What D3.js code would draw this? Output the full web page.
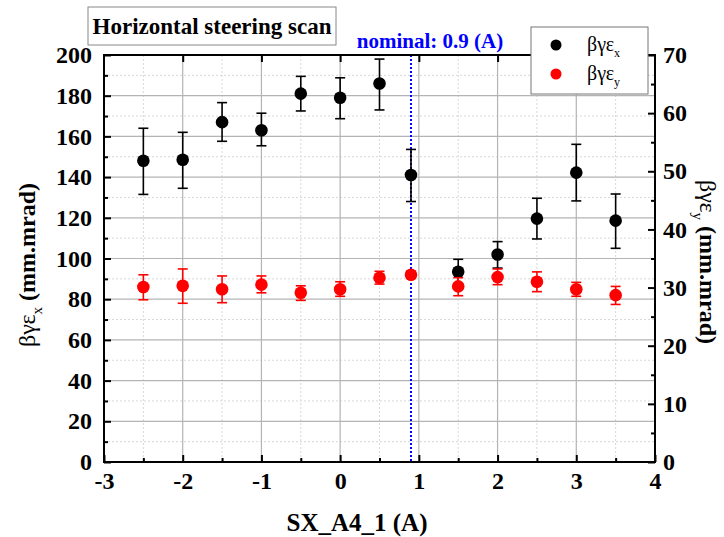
<!DOCTYPE html>
<html>
<head>
<meta charset="utf-8">
<script src="https://cdn.jsdelivr.net/npm/d3@7"></script>
<style>
body { margin: 0; background: #fff; }
text { font-family: "Liberation Serif", "Times New Roman", serif; }
</style>
</head>
<body>
<script>
// steering current (A)
var current = [-2.5, -2, -1.5, -1, -0.5, 0, 0.5, 0.9, 1.5, 2, 2.5, 3, 3.5];
// horizontal emittance and its error bar ends (left axis)
var emitX   = [148, 148.5, 167, 163, 181, 179, 186, 141, 93.5, 102, 119.6, 142.2, 118.6];
var emitXLo = [131.5, 134.5, 157.6, 155.4, 172.5, 168.7, 173, 128, 87.5, 95.3, 109.6, 128.3, 105];
var emitXHi = [164, 162, 176.6, 171.4, 189.5, 188.8, 198, 153.6, 99.6, 108.3, 129.6, 156.1, 131.7];
// vertical emittance and its error bar ends (right axis)
var emitY   = [30.1, 30.3, 29.7, 30.5, 29.1, 29.7, 31.7, 32.2, 30.2, 31.8, 31.0, 29.7, 28.7];
var emitYLo = [27.9, 27.3, 27.4, 29.1, 27.8, 28.5, 30.6, 31.6, 28.6, 30.5, 29.3, 28.5, 27.1];
var emitYHi = [32.2, 33.2, 32.0, 32.0, 30.3, 31.0, 32.8, 32.8, 31.7, 33.2, 32.7, 30.9, 30.2];
var nominal = 0.9;

var W = 724, H = 537;
var margin = {top: 55, right: 69, bottom: 75, left: 104},
	width = W - margin.left - margin.right,
	height = H - margin.top - margin.bottom;

var svg = d3.select("body").append("svg")
	.attr("width", W).attr("height", H);
var g = svg.append("g")
	.attr("transform", "translate(" + margin.left + "," + margin.top + ")");

var x = d3.scaleLinear().domain([-3, 4]).range([0, width]);
var yL = d3.scaleLinear().domain([0, 200]).range([height, 0]);
var yR = d3.scaleLinear().domain([0, 70]).range([height, 0]);
var plain = function(d) { return String(d); }; // keep ascii hyphen like the original

// grid: dashed minor, solid major
var minorX = d3.range(-2.5, 4, 1), majorX = d3.range(-2, 4, 1);
var minorY = d3.range(10, 200, 20), majorY = d3.range(20, 200, 20);
g.selectAll(".gxm").data(minorX).enter().append("line")
	.attr("x1", x).attr("x2", x).attr("y1", 0).attr("y2", height)
	.attr("stroke", "#d8d8d8").attr("stroke-dasharray", "2,2");
g.selectAll(".gym").data(minorY).enter().append("line")
	.attr("y1", yL).attr("y2", yL).attr("x1", 0).attr("x2", width)
	.attr("stroke", "#d8d8d8").attr("stroke-dasharray", "2,2");
g.selectAll(".gx").data(majorX).enter().append("line")
	.attr("x1", x).attr("x2", x).attr("y1", 0).attr("y2", height)
	.attr("stroke", "#b4b4b4").attr("stroke-width", 1.2);
g.selectAll(".gy").data(majorY).enter().append("line")
	.attr("y1", yL).attr("y2", yL).attr("x1", 0).attr("x2", width)
	.attr("stroke", "#b4b4b4").attr("stroke-width", 1.2);

// nominal line
g.append("line")
	.attr("x1", x(nominal)).attr("x2", x(nominal)).attr("y1", 0).attr("y2", height)
	.attr("stroke", "#0000ff").attr("stroke-width", 2).attr("stroke-dasharray", "2,2");

// axes (ticks point inward)
function styleAxis(sel) {
	sel.select(".domain").remove();
	sel.selectAll("line").attr("stroke", "#000").attr("stroke-width", 2);
	sel.selectAll("text").style("font-size", "24px").style("font-weight", "bold").attr("fill", "#000");
}
g.append("g").attr("transform", "translate(0," + height + ")")
	.call(d3.axisBottom(x).tickValues(d3.range(-3, 4.01, 1)).tickSize(-7).tickPadding(10).tickFormat(plain))
	.call(styleAxis);
g.append("g").attr("transform", "translate(0," + height + ")")
	.call(d3.axisBottom(x).tickValues(minorX).tickSize(-4).tickFormat(""))
	.call(styleAxis);
g.append("g")
	.call(d3.axisTop(x).tickValues(majorX).tickSize(-7).tickFormat(""))
	.call(styleAxis);
g.append("g")
	.call(d3.axisLeft(yL).tickValues(d3.range(0, 201, 20)).tickSize(-7).tickPadding(12).tickFormat(plain))
	.call(styleAxis);
g.append("g").call(d3.axisLeft(yL).tickValues(minorY).tickSize(-4).tickFormat("")).call(styleAxis);
g.append("g").attr("transform", "translate(" + width + ",0)")
	.call(d3.axisRight(yR).tickValues(d3.range(0, 71, 10)).tickSize(-7).tickPadding(8).tickFormat(plain))
	.call(styleAxis);
g.append("g").attr("transform", "translate(" + width + ",0)")
	.call(d3.axisRight(yR).tickValues(d3.range(5, 70, 10)).tickSize(-4).tickFormat("")).call(styleAxis);

g.append("rect").attr("width", width).attr("height", height)
	.attr("fill", "none").attr("stroke", "#000").attr("stroke-width", 2);

// error bars + points
function drawSeries(vals, lo, hi, scale, color) {
	var s = g.append("g");
	var d = current.map(function(c, i) { return {x: c, v: vals[i], lo: lo[i], hi: hi[i]}; });
	var eb = s.selectAll(".eb").data(d).enter().append("g")
		.attr("stroke", color).attr("stroke-width", 1.6);
	eb.append("line")
		.attr("x1", function(p) { return x(p.x); }).attr("x2", function(p) { return x(p.x); })
		.attr("y1", function(p) { return scale(p.lo); }).attr("y2", function(p) { return scale(p.hi); });
	eb.append("line")
		.attr("x1", function(p) { return x(p.x) - 5; }).attr("x2", function(p) { return x(p.x) + 5; })
		.attr("y1", function(p) { return scale(p.lo); }).attr("y2", function(p) { return scale(p.lo); });
	eb.append("line")
		.attr("x1", function(p) { return x(p.x) - 5; }).attr("x2", function(p) { return x(p.x) + 5; })
		.attr("y1", function(p) { return scale(p.hi); }).attr("y2", function(p) { return scale(p.hi); });
	s.selectAll(".dot").data(d).enter().append("circle")
		.attr("cx", function(p) { return x(p.x); })
		.attr("cy", function(p) { return scale(p.v); })
		.attr("r", 6.3).attr("fill", color);
}
drawSeries(emitX, emitXLo, emitXHi, yL, "#000");
drawSeries(emitY, emitYLo, emitYHi, yR, "#ff0000");

// nominal label
svg.append("text").attr("x", 430).attr("y", 48)
	.attr("text-anchor", "middle").attr("fill", "#0000ff")
	.style("font-size", "21px").style("font-weight", "bold")
	.text("nominal: " + nominal + " (A)");

// title box
svg.append("rect").attr("x", 88).attr("y", 7).attr("width", 248).attr("height", 38)
	.attr("fill", "#fff").attr("stroke", "#888").attr("stroke-width", 1);
svg.append("text").attr("x", 212).attr("y", 34).attr("text-anchor", "middle")
	.style("font-size", "23px").style("font-weight", "bold").text("Horizontal steering scan");

// legend
var leg = svg.append("g");
leg.append("rect").attr("x", 531).attr("y", 27).attr("width", 117).attr("height", 67)
	.attr("fill", "#fff").attr("stroke", "#777").attr("stroke-width", 1);
[["#000", "x"], ["#ff0000", "y"]].forEach(function(it, i) {
	var yy = 45 + i * 29;
	leg.append("circle").attr("cx", 556).attr("cy", yy).attr("r", 5.5).attr("fill", it[0]);
	var t = leg.append("text").attr("x", 587).attr("y", yy + 6).style("font-size", "20px");
	t.append("tspan").text("βγε");
	t.append("tspan").attr("dy", 6).style("font-size", "12px").text(it[1]);
});

// axis titles
var lt = svg.append("text").attr("transform", "translate(35,265) rotate(-90)")
	.attr("text-anchor", "middle").style("font-size", "24px");
lt.append("tspan").text("βγε");
lt.append("tspan").attr("dy", 7).style("font-size", "15px").text("x");
lt.append("tspan").attr("dy", -7).style("font-weight", "bold").text(" (mm.mrad)");

var rt = svg.append("text").attr("transform", "translate(700,262) rotate(90)")
	.attr("text-anchor", "middle").style("font-size", "24px");
rt.append("tspan").text("βγε");
rt.append("tspan").attr("dy", 7).style("font-size", "15px").text("y");
rt.append("tspan").attr("dy", -7).style("font-weight", "bold").text(" (mm.mrad)");

svg.append("text").attr("x", 357).attr("y", 531)
	.attr("text-anchor", "middle").style("font-size", "25px").style("font-weight", "bold")
	.text("SX_A4_1 (A)");
</script>
</body>
</html>
